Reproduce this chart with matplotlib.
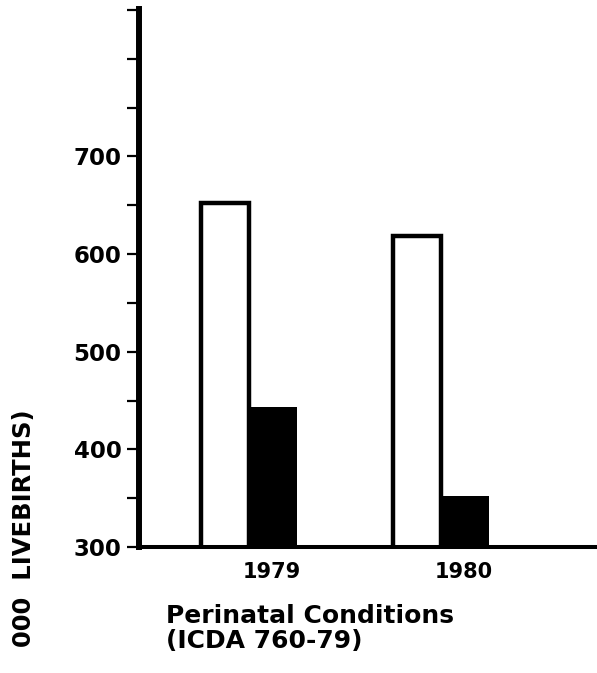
import numpy as np
import matplotlib
matplotlib.use('Agg')
import matplotlib.pyplot as plt

# rates per 100,000 livebirths, perinatal conditions
years = ['1979', '1980']
white_rate = [652, 619]
black_rate = [443, 352]
yticks_major = [300, 400, 500, 600, 700]

plt.rcParams['font.family'] = 'DejaVu Sans'
plt.rcParams['font.weight'] = 'bold'

fig = plt.figure(figsize=(5.97, 6.73), dpi=100)
ax = fig.add_axes([0.2328, 0.1872, 1 - 0.2328, 0.9866 - 0.1872])

x = np.arange(len(years))
off = 0.245
ax.bar(x, white_rate, width=0.25, bottom=0, color='white', edgecolor='black',
       linewidth=3.2, zorder=2)
ax.bar(x + off, black_rate, width=0.26, color='black', edgecolor='black',
       linewidth=0, zorder=3)

ax.set_xlim(-0.448, 1.9375)
ax.set_ylim(300, 851)

# ticks every 50, labels on the hundreds only
ax.set_yticks(np.arange(300, 851, 50))
ax.set_yticklabels([str(v) if v in yticks_major else '' for v in np.arange(300, 851, 50)])
ax.tick_params(axis='y', direction='out', length=8.6, width=1.6, pad=4, labelsize=16.5)

ax.set_xticks(x + off)
ax.set_xticklabels(years)
ax.tick_params(axis='x', length=0, pad=11, labelsize=15)

ax.spines['top'].set_visible(False)
ax.spines['right'].set_visible(False)
ax.spines['left'].set_linewidth(4.3)
ax.spines['bottom'].set_linewidth(2.9)
ax.spines['left'].set_zorder(4)
ax.spines['bottom'].set_zorder(4)

fig.text(0.278, 0.0743, 'Perinatal Conditions', fontsize=18, fontweight='bold',
         ha='left', va='baseline')
fig.text(0.278, 0.0371, '(ICDA 760-79)', fontsize=18, fontweight='bold',
         ha='left', va='baseline')

# y label, only its tail end fits on the page
fig.text(0.040, 0.391, '000  LIVEBIRTHS)', fontsize=17.5, fontweight='bold',
         rotation=90, ha='center', va='top')

plt.savefig('out.png', dpi=100)
